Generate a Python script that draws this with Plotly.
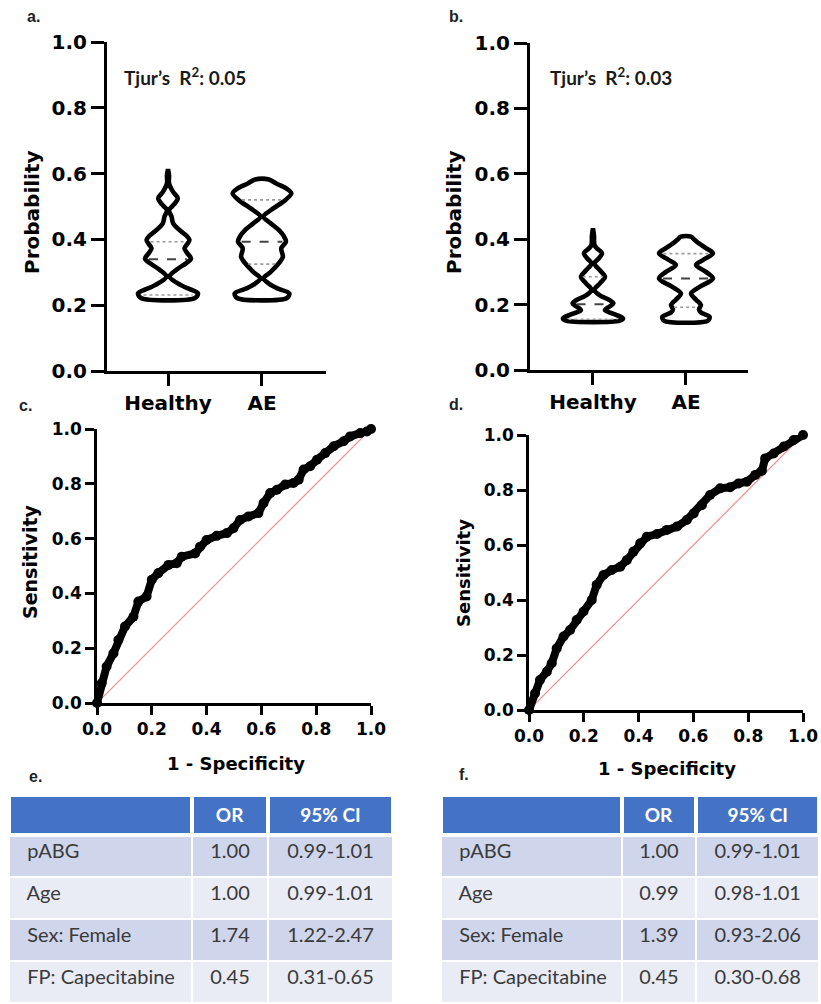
import numpy as np
import plotly.graph_objects as go

W, H = 821, 1004

# ---------------- data ----------------
categories = ["Healthy", "AE"]
prob_ticks = [0.0, 0.2, 0.4, 0.6, 0.8, 1.0]
roc_ticks = [0.0, 0.2, 0.4, 0.6, 0.8, 1.0]

# Panel a violin outlines: probability levels and half-widths (category units)
a_healthy_level = [0.222, 0.236, 0.251, 0.261, 0.287, 0.31, 0.328, 0.342, 0.358, 0.373, 0.386, 0.398,
                   0.412, 0.423, 0.449, 0.47, 0.489, 0.507, 0.525, 0.545, 0.571, 0.595, 0.613]
a_healthy_half = [0.287, 0.319, 0.213, 0.138, 0.016, 0.100, 0.195, 0.245, 0.205, 0.175, 0.205, 0.228,
                  0.195, 0.145, 0.055, 0.037, 0.011, 0.066, 0.104, 0.053, 0.011, 0.011, 0.0]
a_ae_level = [0.222, 0.236, 0.251, 0.265, 0.282, 0.30, 0.327, 0.347, 0.373, 0.393, 0.41, 0.429,
              0.45, 0.469, 0.49, 0.52, 0.540, 0.555, 0.57, 0.582]
a_ae_half = [0.266, 0.290, 0.165, 0.076, 0.016, 0.088, 0.178, 0.222, 0.205, 0.255, 0.232, 0.178,
             0.088, 0.016, 0.100, 0.250, 0.312, 0.258, 0.152, 0.074]
a_median = [0.340, 0.393]
a_q1 = [0.231, 0.325]
a_q3 = [0.393, 0.520]

# Panel b violin outlines
b_healthy_level = [0.151, 0.158, 0.170, 0.183, 0.195, 0.204, 0.215, 0.228, 0.245, 0.265, 0.285, 0.305,
                   0.326, 0.342, 0.357, 0.372, 0.382, 0.41, 0.433]
b_healthy_half = [0.290, 0.323, 0.237, 0.129, 0.183, 0.220, 0.172, 0.075, 0.016, 0.075, 0.129, 0.075,
                  0.016, 0.065, 0.097, 0.043, 0.016, 0.011, 0.0]
b_ae_level = [0.151, 0.163, 0.176, 0.186, 0.199, 0.215, 0.234, 0.255, 0.28, 0.30, 0.321, 0.338,
              0.357, 0.373, 0.387, 0.400, 0.408]
b_ae_half = [0.237, 0.253, 0.161, 0.140, 0.161, 0.108, 0.054, 0.151, 0.290, 0.215, 0.108, 0.194,
             0.290, 0.215, 0.140, 0.086, 0.054]
b_median = [0.201, 0.280]
b_q1 = [0.155, 0.192]
b_q3 = [0.285, 0.356]

tjur_a = "0.05"
tjur_b = "0.03"

# ROC curves (1 - specificity, sensitivity)
c_fpr = [0.0, 0.017, 0.035, 0.06, 0.078, 0.102, 0.133, 0.151, 0.181, 0.2, 0.224, 0.261, 0.291, 0.309,
         0.358, 0.376, 0.40, 0.437, 0.474, 0.498, 0.522, 0.553, 0.589, 0.608, 0.632, 0.657, 0.687,
         0.717, 0.736, 0.754, 0.778, 0.803, 0.833, 0.864, 0.900, 0.924, 0.961, 0.985, 1.0]
c_tpr = [0.0, 0.072, 0.133, 0.181, 0.230, 0.279, 0.315, 0.370, 0.389, 0.45, 0.474, 0.504, 0.510, 0.534,
         0.546, 0.570, 0.595, 0.610, 0.620, 0.638, 0.668, 0.681, 0.693, 0.730, 0.766, 0.778, 0.797,
         0.803, 0.815, 0.852, 0.864, 0.888, 0.912, 0.937, 0.955, 0.973, 0.985, 0.991, 1.0]
d_fpr = [0.0, 0.022, 0.040, 0.065, 0.083, 0.101, 0.126, 0.150, 0.174, 0.199, 0.229, 0.247, 0.272,
         0.302, 0.333, 0.357, 0.381, 0.406, 0.430, 0.467, 0.503, 0.540, 0.576, 0.601, 0.631, 0.661,
         0.698, 0.734, 0.765, 0.795, 0.826, 0.850, 0.862, 0.893, 0.930, 0.966, 1.0]
d_tpr = [0.0, 0.061, 0.109, 0.139, 0.170, 0.224, 0.267, 0.291, 0.327, 0.358, 0.400, 0.455, 0.491,
         0.509, 0.521, 0.545, 0.576, 0.606, 0.630, 0.640, 0.655, 0.667, 0.691, 0.715, 0.745, 0.782,
         0.806, 0.810, 0.824, 0.830, 0.855, 0.870, 0.915, 0.933, 0.958, 0.982, 1.0]
chance = [0.0, 1.0]

# Tables
tbl_header = ["", "OR", "95% CI"]
tbl_vars = ["pABG", "Age", "Sex: Female", "FP: Capecitabine"]
e_or = ["1.00", "1.00", "1.74", "0.45"]
e_ci = ["0.99-1.01", "0.99-1.01", "1.22-2.47", "0.31-0.65"]
f_or = ["1.00", "0.99", "1.39", "0.45"]
f_ci = ["0.99-1.01", "0.98-1.01", "0.93-2.06", "0.30-0.68"]

# ---------------- helpers ----------------
def px(x):
    return x / W

def py(y):
    return 1 - y / H

BOLD = dict(family="DejaVu Sans", color="black", weight="bold")

fig = go.Figure()

def violin_shape(center, level, half, xa, ya):
    level = np.array(level)
    half = np.array(half)
    xs = np.concatenate([center + half, (center - half)[::-1], [center + half[0]]])
    ys = np.concatenate([level, level[::-1], [level[0]]])
    fig.add_trace(go.Scatter(x=xs, y=ys, mode="lines", fill="toself", fillcolor="white",
                             line=dict(color="black", width=4.6, shape="spline", smoothing=0.9),
                             xaxis=xa, yaxis=ya, hoverinfo="skip", showlegend=False))

def stat_line(center, value, level, half, xa, ya, dash, color, width):
    hw = np.interp(value, level, half) * 0.85
    fig.add_trace(go.Scatter(x=[center - hw, center + hw], y=[value, value], mode="lines",
                             line=dict(color=color, width=width, dash=dash),
                             xaxis=xa, yaxis=ya, hoverinfo="skip", showlegend=False))

panels = [
    ("x", "y", [(a_healthy_level, a_healthy_half), (a_ae_level, a_ae_half)], a_median, a_q1, a_q3),
    ("x2", "y2", [(b_healthy_level, b_healthy_half), (b_ae_level, b_ae_half)], b_median, b_q1, b_q3),
]
for xa, ya, profiles, med, q1, q3 in panels:
    for i, (lv, hf) in enumerate(profiles):
        violin_shape(i, lv, hf, xa, ya)
        stat_line(i, q1[i], lv, hf, xa, ya, "dot", "#9a9a9a", 1.6)
        stat_line(i, q3[i], lv, hf, xa, ya, "dot", "#9a9a9a", 1.6)
        stat_line(i, med[i], lv, hf, xa, ya, "dash", "#444444", 2)

# ROC
for xa, ya, fx, ty in [("x3", "y3", c_fpr, c_tpr), ("x4", "y4", d_fpr, d_tpr)]:
    fig.add_trace(go.Scatter(x=chance, y=chance, mode="lines", line=dict(color="#f08c8c", width=1.2),
                             xaxis=xa, yaxis=ya, hoverinfo="skip", showlegend=False))
    fig.add_trace(go.Scatter(x=fx, y=ty, mode="lines+markers", line=dict(color="black", width=8),
                             marker=dict(color="black", size=10), cliponaxis=False,
                             xaxis=xa, yaxis=ya, hoverinfo="skip", showlegend=False))

NB = "\u00a0"
row_fill = ["#CFD5EA", "#E9EBF5", "#CFD5EA", "#E9EBF5"]
for (x0, x1), widths, orv, civ in [((9, 393), [183, 76, 125], e_or, e_ci),
                                   ((441, 820), [181, 75, 123], f_or, f_ci)]:
    fig.add_trace(go.Table(
        domain=dict(x=[px(x0), px(x1)], y=[0, py(795)]),
        columnwidth=widths,
        header=dict(values=["<b>%s</b>" % h.replace(" ", NB) for h in tbl_header], fill_color="#4472C4",
                    line=dict(color="white", width=4), align=["left", "center", "center"],
                    font=dict(family="Lato", size=19, color="white"), height=40),
        cells=dict(values=[[NB + NB + v.replace(" ", NB) for v in tbl_vars], orv, civ],
                   fill_color=[row_fill] * 3, line=dict(color="white", width=2),
                   align=["left", "center", "center"],
                   font=dict(family="Lato", size=20, color="#3a3a3a"), height=42),
    ))

def y_axis(dom, anchor, ticks, size, ticklen, lw):
    return dict(domain=[py(dom[1]), py(dom[0])], anchor=anchor, range=[0, 1], tickvals=ticks,
                tickformat=".1f", showline=True, linecolor="black", linewidth=lw, ticks="outside",
                ticklen=ticklen, tickwidth=lw, tickcolor="black", showgrid=False, zeroline=False,
                tickfont=dict(size=size, **BOLD), fixedrange=True, automargin=False)

def x_axis(dom, anchor, rng, size, ticklen, lw, tickvals, ticktext=None, fmt=None):
    d = dict(domain=[px(dom[0]), px(dom[1])], anchor=anchor, range=rng, tickvals=tickvals,
             showline=True, linecolor="black", linewidth=lw, ticks="outside", ticklen=ticklen,
             tickwidth=lw, tickcolor="black", showgrid=False, zeroline=False,
             tickfont=dict(size=size, **BOLD), fixedrange=True, automargin=False)
    if ticktext is not None:
        d["ticktext"] = ticktext
    if fmt:
        d["tickformat"] = fmt
    return d

fig.update_layout(
    template="none",
    width=W, height=H, margin=dict(l=0, r=0, t=0, b=0, pad=0, autoexpand=False),
    paper_bgcolor="white", plot_bgcolor="white", showlegend=False,
    xaxis=x_axis((107, 326), "y", [-0.649, 1.681], 20, 12, 3, [0, 1], categories),
    yaxis=y_axis((42, 371), "x", prob_ticks, 20, 13, 3),
    xaxis2=x_axis((530, 748), "y2", [-0.677, 1.667], 20, 12, 3, [0, 1], categories),
    yaxis2=y_axis((43, 370), "x2", prob_ticks, 20, 13, 3),
    xaxis3=x_axis((97, 371), "y3", [0, 1], 17, 9, 2.5, roc_ticks, fmt=".1f"),
    yaxis3=y_axis((429, 703), "x3", roc_ticks, 17, 9, 2.5),
    xaxis4=x_axis((529, 803), "y4", [0, 1], 17, 9, 2.5, roc_ticks, fmt=".1f"),
    yaxis4=y_axis((435, 710), "x4", roc_ticks, 17, 9, 2.5),
)

ann = []
def label(text, x, y, size, font=None, angle=0, xanchor="center"):
    f = dict(size=size, **(font or BOLD))
    ann.append(dict(text=text, x=px(x), y=py(y), xref="paper", yref="paper", showarrow=False,
                    xanchor=xanchor, yanchor="middle", textangle=angle, font=f))

LAB = dict(family="Liberation Sans", color="#222222", weight="bold")
label("a.", 25, 17, 16, LAB, xanchor="left")
label("b.", 447, 17, 16, LAB, xanchor="left")
label("c.", 17, 405, 16, LAB, xanchor="left")
label("d.", 447, 404, 16, LAB, xanchor="left")
label("e.", 27, 776, 16, LAB, xanchor="left")
label("f.", 457, 774, 16, LAB, xanchor="left")

label("Probability", 32, 212, 20, angle=-90)
label("Probability", 454, 212, 20, angle=-90)
label("Sensitivity", 30, 562, 19, angle=-90)
label("Sensitivity", 463, 573, 18, angle=-90)
label("1 - Specificity", 236, 763, 18)
label("1 - Specificity", 667, 768, 18)

TJ = dict(family="Lato", color="#1a1a1a", weight="bold")
label("Tjur\u2019s\u00a0\u00a0R<sup>2</sup>: " + tjur_a, 122, 76, 19, TJ, xanchor="left")
label("Tjur\u2019s\u00a0\u00a0R<sup>2</sup>: " + tjur_b, 548, 76, 19, TJ, xanchor="left")

fig.update_layout(annotations=ann)
fig.write_html("out.html", post_script="document.body.style.margin='0';")
